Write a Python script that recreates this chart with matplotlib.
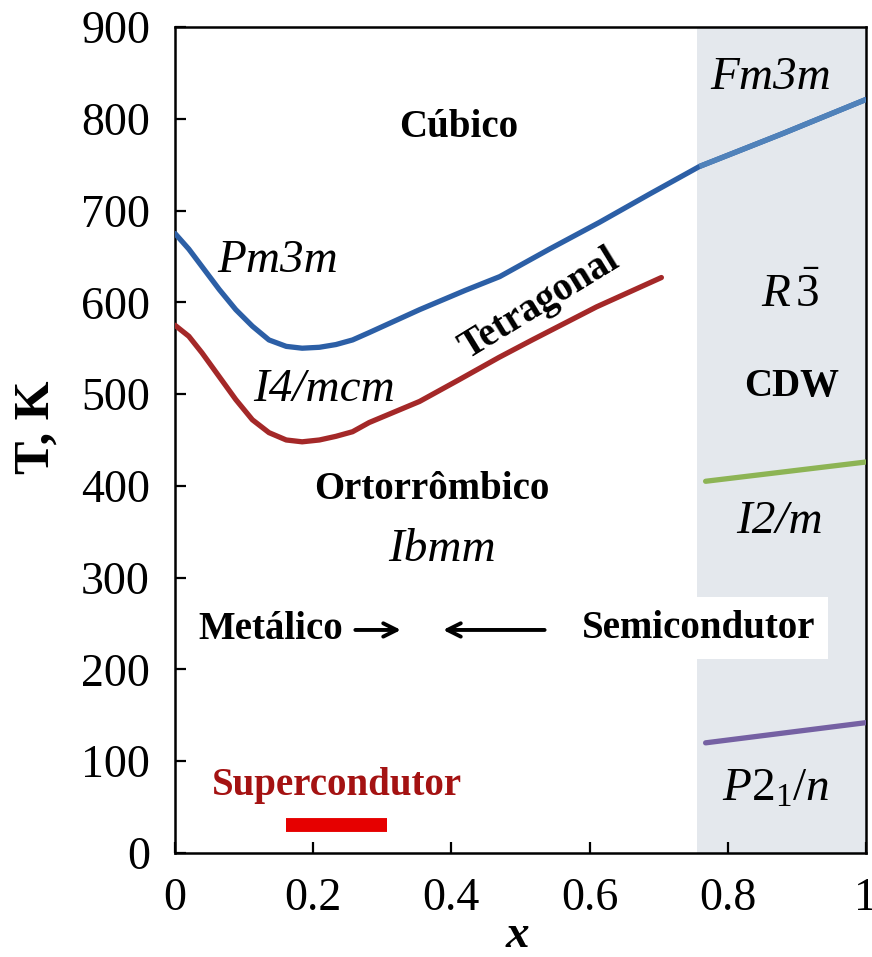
import numpy as np
import matplotlib
matplotlib.use("Agg")
import matplotlib.pyplot as plt

plt.rcParams['font.family'] = ['Liberation Serif', 'DejaVu Serif']
plt.rcParams['mathtext.fontset'] = 'custom'
plt.rcParams['mathtext.rm'] = 'Liberation Serif'
plt.rcParams['mathtext.it'] = 'Liberation Serif:italic'
plt.rcParams['mathtext.bf'] = 'Liberation Serif:bold'

# ---- data ----
cubic_x = [0, 0.02, 0.039, 0.064, 0.088, 0.112, 0.136, 0.161, 0.184, 0.209, 0.233,
           0.257, 0.281, 0.354, 0.42, 0.47, 0.542, 0.614, 0.687, 0.759, 0.88, 1.0]
cubic_T = [675, 658, 639, 614, 592, 574, 559, 552, 550, 551, 554,
           559, 567, 592, 613, 628, 658, 687, 718, 748, 784, 821]

tetra_x = [0, 0.02, 0.039, 0.064, 0.088, 0.112, 0.136, 0.161, 0.184, 0.209, 0.233,
           0.257, 0.281, 0.354, 0.412, 0.469, 0.517, 0.61, 0.704]
tetra_T = [575, 563, 545, 519, 494, 472, 458, 450, 448, 450, 454,
           459, 469, 492, 516, 540, 559, 595, 627]

i2m_x = [0.768, 1.0]
i2m_T = [405, 426]

p21n_x = [0.768, 1.0]
p21n_T = [120, 142]

super_x = [0.161, 0.307]
super_T = [30.5, 30.5]

cdw_start = 0.755

xticks = [0, 0.2, 0.4, 0.6, 0.8, 1]
xtick_labels = ['0', '0.2', '0.4', '0.6', '0.8', '1']
yticks = [0, 100, 200, 300, 400, 500, 600, 700, 800, 900]

# ---- figure ----
fig = plt.figure(figsize=(8.72, 9.57), dpi=100)
ax = fig.add_axes([0.2007, 0.1087, 0.7923, 0.8631])
ax.set_xlim(0, 1)
ax.set_ylim(0, 900)

ax.axvspan(cdw_start, 1, color='#e4e8ed', zorder=0, lw=0)

cx = np.array(cubic_x); cT = np.array(cubic_T)
ax.plot(cx, cT, color='#2c5fa6', lw=3.8, solid_capstyle='round', solid_joinstyle='round', zorder=3)
m = cx >= cdw_start
ax.plot(cx[m], cT[m], color='#5082ba', lw=3.8, solid_capstyle='butt', solid_joinstyle='round', zorder=3)
ax.plot(tetra_x, tetra_T, color='#a42828', lw=3.8, solid_capstyle='round', solid_joinstyle='round', zorder=3)
ax.plot(i2m_x, i2m_T, color='#8db455', lw=3.8, solid_capstyle='round', zorder=3)
ax.plot(p21n_x, p21n_T, color='#7561a3', lw=3.8, solid_capstyle='round', zorder=3)
ax.plot(super_x, super_T, color='#e60000', lw=10, solid_capstyle='butt', zorder=3)

# ---- axes styling ----
for s in ax.spines.values():
    s.set_linewidth(1.8)
ax.set_xticks(xticks)
ax.set_xticklabels(xtick_labels)
ax.set_yticks(yticks)
ax.tick_params(direction='in', length=8, width=1.6, labelsize=33, top=False, right=False)
ax.tick_params(axis='y', pad=18)
ax.tick_params(axis='x', pad=18)
ax.set_ylabel('T, K', fontsize=36, fontweight='bold', va='center')
ax.yaxis.set_label_coords(-0.201, 0.516)
ax.set_xlabel('x', fontsize=34, fontweight='bold', fontstyle='italic', va='center')
ax.xaxis.set_label_coords(0.496, -0.101)

# ---- annotations ----
bold = dict(fontweight='bold', fontsize=28, ha='center', va='center')
ital = dict(fontstyle='italic', fontsize=34, ha='center', va='center')

ax.text(0.411, 791, 'Cúbico', **bold)
ax.text(0.148, 645, 'Pm3m', **ital)
ax.text(0.528, 598, 'Tetragonal', rotation=31.5, **bold)
ax.text(0.216, 505, 'I4/mcm', **ital)
ax.text(0.371, 396, 'Ortorrômbico', **bold)
ax.text(0.386, 330, 'Ibmm', **ital)
ax.text(0.138, 243, 'Metálico', **bold)
ax.annotate('', xy=(0.331, 243), xytext=(0.257, 243),
            arrowprops=dict(arrowstyle='->', lw=2.8, color='black', mutation_scale=24))
ax.annotate('', xy=(0.384, 243), xytext=(0.539, 243),
            arrowprops=dict(arrowstyle='->', lw=2.8, color='black', mutation_scale=24))
ax.text(0.758, 245, 'Semicondutor', zorder=4,
        bbox=dict(facecolor='white', edgecolor='none', pad=9), **bold)
ax.text(0.235, 74, 'Supercondutor', color='#a41212', **bold)
ax.text(0.862, 845, 'Fm3m', **ital)
ax.text(0.891, 607, r'$\mathit{R}\,\bar{\mathrm{3}}$', fontsize=34, ha='center', va='center')
ax.text(0.893, 508, 'CDW', **bold)
ax.text(0.875, 361, 'I2/m', **ital)
ax.text(0.87, 69, r'$\mathit{P}\mathit{2}_{\mathrm{1}}\mathit{/n}$', fontsize=34, ha='center', va='center')

fig.savefig('out.png', dpi=100)
